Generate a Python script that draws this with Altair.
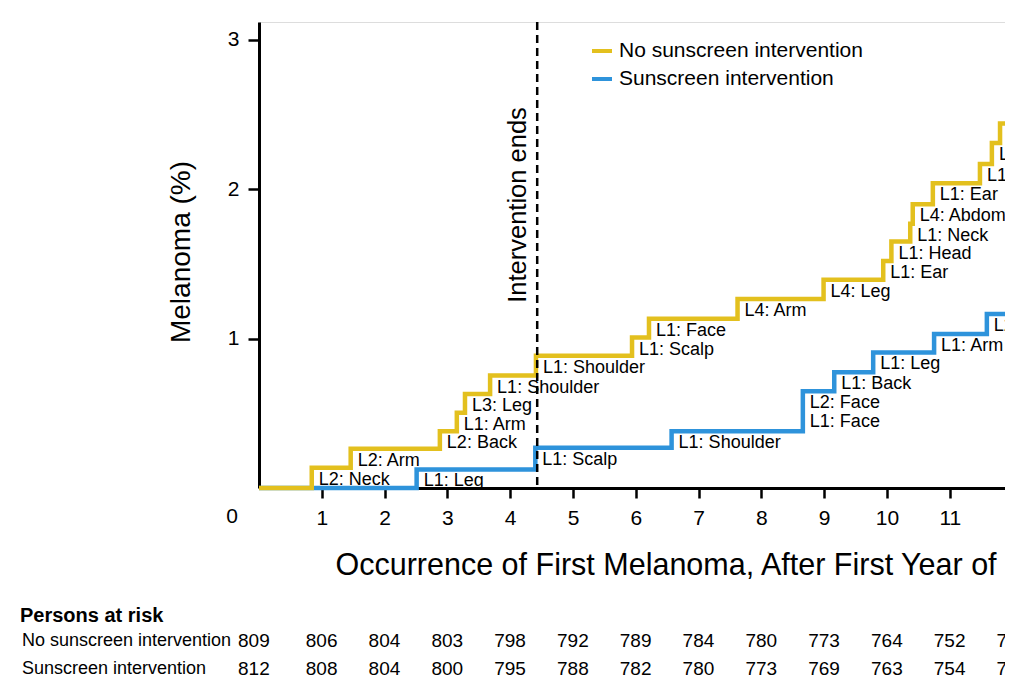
import altair as alt
import pandas as pd

FONT = "Liberation Sans"

# ---------------- data ----------------
groups = ["No sunscreen intervention", "Sunscreen intervention"]
colors = ["#E3C01E", "#2E93DB"]

# No sunscreen intervention: event times (years) and cumulative melanoma (%)
no_times = [0.84, 1.46, 2.88, 3.15, 3.28, 3.68, 4.41, 5.94, 6.21, 7.62, 8.99,
            9.94, 10.07, 10.37, 10.41, 10.73, 11.48, 11.67, 11.80]
no_levels = [0.135, 0.262, 0.380, 0.503, 0.630, 0.753, 0.886, 1.007, 1.134, 1.266,
             1.395, 1.520, 1.650, 1.770, 1.900, 2.040, 2.170, 2.310, 2.440]
no_labels = ["L2: Neck", "L2: Arm", "L2: Back", "L1: Arm", "L3: Leg", "L1: Shoulder",
             "L1: Shoulder", "L1: Scalp", "L1: Face", "L4: Arm", "L4: Leg", "L1: Ear",
             "L1: Head", "L1: Neck", "L4: Abdomen", "L1: Ear", "L1:", "L4", "L"]

# Sunscreen intervention
sun_times = [2.51, 4.40, 6.57, 8.66, 9.16, 9.78, 10.75, 11.59]
sun_levels = [0.124, 0.269, 0.380, 0.647, 0.775, 0.908, 1.031, 1.165]
sun_labels = ["L1: Leg", "L1: Scalp", "L1: Shoulder", "L2: Face", "L1: Back",
              "L1: Leg", "L1: Arm", "L2"]
# second label under a double step
sun_second_times = [8.66]
sun_second_levels = [0.647]
sun_second_labels = ["L1: Face"]

line_end = 12.6

intervention_time = [4.43]
intervention_label = ["Intervention ends"]
intervention_label_level = [1.895]

x_ticks = list(range(1, 13))
y_ticks = [1, 2, 3]

risk_years = list(range(13))
risk_no = ["809", "806", "804", "803", "798", "792", "789", "784", "780", "773", "764", "752", "74"]
risk_sun = ["812", "808", "804", "800", "795", "788", "782", "780", "773", "769", "763", "754", "74"]
risk_title = "Persons at risk"

x_title = "Occurrence of First Melanoma, After First Year of"
y_title = "Melanoma (%)"

# ---------------- tables ----------------
def step_df(times, levels, group):
    return pd.DataFrame({"t": [0] + times + [line_end],
                         "pct": [0] + levels + [levels[-1]],
                         "group": group})

no_df = step_df(no_times, no_levels, groups[0])
sun_df = step_df(sun_times, sun_levels, groups[1])
label_df = pd.DataFrame({"t": no_times + sun_times,
                         "pct": no_levels + sun_levels,
                         "label": no_labels + sun_labels})
label2_df = pd.DataFrame({"t": sun_second_times, "pct": sun_second_levels,
                          "label": sun_second_labels})
interv_df = pd.DataFrame({"t": intervention_time, "pct": intervention_label_level,
                          "label": intervention_label})
origin_df = pd.DataFrame({"t": [0], "pct": [0], "label": ["0"]})
risk_df = pd.DataFrame({"t": risk_years * 2,
                        "n": risk_no + risk_sun,
                        "row": [groups[0]] * 13 + [groups[1]] * 13})

# ---------------- scales / axes ----------------
PX_PER_YEAR = 62.8
PLOT_W = 746
x_scale = alt.Scale(domain=[0, PLOT_W / PX_PER_YEAR], nice=False, zero=False)
y_scale = alt.Scale(domain=[0, 3.12], nice=False)
color_scale = alt.Scale(domain=groups, range=colors)

x_axis = alt.Axis(values=x_ticks, title=x_title, grid=False,
                  tickSize=10, tickWidth=2.5, tickColor="black",
                  domainWidth=3, domainColor="black",
                  labelFontSize=21, labelFont=FONT, labelColor="black", labelPadding=9,
                  labelOverlap=False, labelFlush=False,
                  titleFontSize=30.5, titleFont=FONT, titleFontWeight="normal",
                  titleColor="black", titleX=76, titleY=86, titleAlign="left",
                  titleBaseline="alphabetic", titleAnchor="start")
y_axis = alt.Axis(values=y_ticks, title=y_title, grid=False,
                  tickSize=11, tickWidth=2.5, tickColor="black",
                  domainWidth=3, domainColor="black",
                  labelFontSize=21, labelFont=FONT, labelColor="black", labelPadding=9,
                  titleFontSize=28, titleFont=FONT, titleFontWeight="normal",
                  titleColor="black", titleX=-78, titleY=229.5, titleAngle=270,
                  titleAlign="center", titleBaseline="middle")
legend = alt.Legend(orient="none", legendX=331, legendY=17, title=None,
                    symbolType="stroke", symbolStrokeWidth=4, symbolSize=400,
                    labelFontSize=21, labelFont=FONT, labelColor="black",
                    labelOffset=5, rowPadding=6, padding=0, labelLimit=0)

X = alt.X("t:Q", scale=x_scale, axis=x_axis)
Y = alt.Y("pct:Q", scale=y_scale, axis=y_axis)
C = alt.Color("group:N", scale=color_scale, legend=legend)

sun_line = alt.Chart(sun_df).mark_line(interpolate="step-after", strokeWidth=4.5).encode(x=X, y=Y, color=C)
no_line = alt.Chart(no_df).mark_line(interpolate="step-after", strokeWidth=4.5).encode(x=X, y=Y, color=C)

labels = alt.Chart(label_df).mark_text(align="left", baseline="middle", dx=7, dy=12,
                                       fontSize=18, font=FONT, color="black").encode(x=X, y=Y, text="label:N")
labels2 = alt.Chart(label2_df).mark_text(align="left", baseline="middle", dx=7, dy=31,
                                         fontSize=18, font=FONT, color="black").encode(x=X, y=Y, text="label:N")

rule = alt.Chart(interv_df).mark_rule(strokeDash=[8, 5], strokeWidth=2.5, color="black").encode(x=X)
interv_text = alt.Chart(interv_df).mark_text(angle=270, align="center", baseline="alphabetic", dy=-11.5,
                                             fontSize=25.5, font=FONT, color="black").encode(x=X, y=Y, text="label:N")

origin = alt.Chart(origin_df).mark_text(align="center", baseline="middle", dx=-27, dy=29,
                                        fontSize=21, font=FONT, color="black").encode(x=X, y=Y, text="label:N")

risk_head = alt.Chart(pd.DataFrame({"label": [risk_title]})).mark_text(
    align="left", baseline="middle", fontSize=20, font=FONT, fontWeight="bold", color="black"
).encode(x=alt.value(-239), y=alt.value(594), text="label:N")
row_y = {groups[0]: 619, groups[1]: 647}
row_labels = []
risk_nums = []
for g in groups:
    row_labels.append(alt.Chart(pd.DataFrame({"label": [g]})).mark_text(
        align="left", baseline="middle", fontSize=18, font=FONT, color="black"
    ).encode(x=alt.value(-237), y=alt.value(row_y[g]), text="label:N"))
    sub = risk_df[risk_df["row"] == g]
    risk_nums.append(alt.Chart(sub[sub["t"] == 0]).mark_text(
        align="left", baseline="middle", dx=-21, fontSize=19, font=FONT, color="black"
    ).encode(x=X, y=alt.value(row_y[g]), text="n:N"))
    risk_nums.append(alt.Chart(sub[sub["t"] > 0]).mark_text(
        align="left", baseline="middle", dx=-16, fontSize=19, font=FONT, color="black"
    ).encode(x=X, y=alt.value(row_y[g]), text="n:N"))

chart = alt.layer(
    sun_line, no_line, labels, labels2, rule, interv_text, origin,
    risk_head, *row_labels, *risk_nums
).properties(
    width=PLOT_W, height=466,
    padding={"left": 251, "top": 14, "right": 0, "bottom": 195},
    autosize=alt.AutoSizeParams(type="none"),
    background="white",
).configure_view(stroke=None).configure(font=FONT)

chart.save("out.html", embed_options={"renderer": "svg", "actions": False})
